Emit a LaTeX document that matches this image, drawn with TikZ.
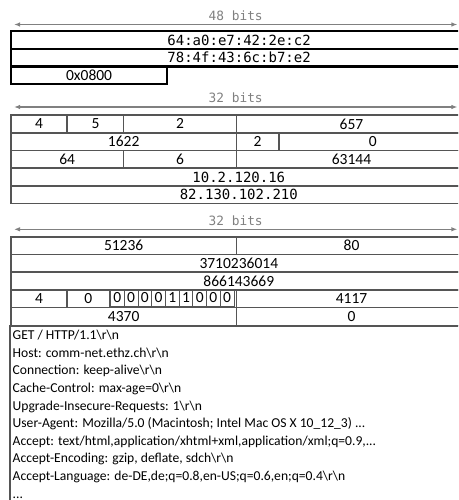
\documentclass[tikz,border=0pt]{standalone}
\usepackage{fontspec}
\setmainfont{Carlito}
\newfontfamily\hexfont{DejaVu Sans Mono}
\usepackage{xcolor}
\usepackage{tikz}
\usetikzlibrary{positioning}
\usetikzlibrary{arrows.meta}

\definecolor{linegray}{HTML}{555555}
\definecolor{labelgray}{HTML}{808080}

\tikzset{
  numfont/.style={font=\fontsize{15.5}{17}\selectfont},
  field/.style={draw=linegray, line width=1.6pt, minimum width=#1, minimum height=17.7pt,
    inner sep=0pt, anchor=north west, numfont},
  hexfield/.style={field=#1, font=\hexfont\fontsize{14}{16}\selectfont},
  ethfield/.style={field=#1, draw=black, line width=2.2pt},
  flagbit/.style={draw=linegray, line width=0.8pt, minimum width=13.72pt, minimum height=17.7pt,
    inner sep=0pt, numfont},
  bitsarrow/.style={{Latex[length=6pt,width=4.5pt]}-{Latex[length=6pt,width=4.5pt]},
    draw=labelgray, line width=1.2pt},
  bitslabel/.style={font=\hexfont\fontsize{12.8}{14}\selectfont, text=labelgray},
  httpbox/.style={draw=linegray, line width=1.6pt},
  httptext/.style={anchor=north west, align=left, inner xsep=2.5pt, inner ysep=4pt,
    font=\fontsize{13.6}{17.6}\selectfont}
}

\begin{document}
\begin{tikzpicture}[x=1pt,y=-1pt]
\useasboundingbox (0,0) rectangle (458,500);
\clip (0,0) rectangle (458,500);

% Ethernet header
\coordinate (ethL) at (14,24.5);
\coordinate (ethR) at (457.4,24.5);
\draw[bitsarrow] (ethL) -- node[bitslabel, above=0pt] (ethbits) {48 bits} (ethR);
\node[ethfield=456pt, font=\hexfont\fontsize{14}{16}\selectfont] (dstmac) at (10,30) {64:a0:e7:42:2e:c2};
\node[ethfield=456pt, font=\hexfont\fontsize{14}{16}\selectfont] (srcmac) at (10,47.7) {78:4f:43:6c:b7:e2};
\node[ethfield=156pt] (ethtype) at (10,65.4) {0x0800};

% IP header
\coordinate (ipL) at (14,107);
\coordinate (ipR) at (457.4,107);
\draw[bitsarrow] (ipL) -- node[bitslabel, above=0pt] (ipbits) {32 bits} (ipR);
\node[field=56.42pt] (ver) at (10,114.3) {4};
\node[field=56.42pt] (ihl) at (66.42,114.3) {5};
\node[field=112.85pt] (tos) at (122.85,114.3) {2};
\node[field=230pt] (iplen) at (235.7,114.3) {657};
\node[field=225.7pt] (ipid) at (10,132) {1622};
\node[field=42.32pt] (ipflags) at (235.7,132) {2};
\node[field=188pt] (fragoff) at (278.02,132) {0};
\node[field=112.85pt] (ttl) at (10,149.7) {64};
\node[field=112.85pt] (proto) at (122.85,149.7) {6};
\node[field=230pt] (ipcsum) at (235.7,149.7) {63144};
\node[hexfield=456pt] (srcip) at (10,167.4) {10.2.120.16};
\node[hexfield=456pt] (dstip) at (10,185.1) {82.130.102.210};

% TCP header
\coordinate (tcpL) at (14,229.3);
\coordinate (tcpR) at (457.4,229.3);
\draw[bitsarrow] (tcpL) -- node[bitslabel, above=0pt] (tcpbits) {32 bits} (tcpR);
\node[field=225.7pt] (sport) at (10,236) {51236};
\node[field=230pt] (dport) at (235.7,236) {80};
\node[field=456pt] (seqnum) at (10,253.7) {3710236014};
\node[field=456pt] (acknum) at (10,271.4) {866143669};
\node[field=56.42pt] (doff) at (10,289.1) {4};
\node[field=42.32pt] (reserved) at (66.42,289.1) {0};
\node[field=126.96pt] (flags) at (108.74,289.1) {};
\foreach \b [count=\i from 0] in {0,0,0,0,1,1,0,0,0}
  \node[flagbit] (flag\i) at (117.36+\i*13.72,297.95) {\b};
\node[field=230pt] (window) at (235.7,289.1) {4117};
\node[field=225.7pt] (tcpcsum) at (10,306.8) {4370};
\node[field=230pt] (urgptr) at (235.7,306.8) {0};

% HTTP request
\draw[httpbox] (10,326) rectangle (470,520);
\node[httptext] (http) at (10,326) {GET / HTTP/1.1\textbackslash r\textbackslash n\\
Host: comm-net.ethz.ch\textbackslash r\textbackslash n\\
Connection: keep-alive\textbackslash r\textbackslash n\\
Cache-Control: max-age=0\textbackslash r\textbackslash n\\
Upgrade-Insecure-Requests: 1\textbackslash r\textbackslash n\\
User-Agent: Mozilla/5.0 (Macintosh; Intel Mac OS X 10\_12\_3) ...\\
Accept: text/html,application/xhtml+xml,application/xml;q=0.9,...\\
Accept-Encoding: gzip, deflate, sdch\textbackslash r\textbackslash n\\
Accept-Language: de-DE,de;q=0.8,en-US;q=0.6,en;q=0.4\textbackslash r\textbackslash n\\
...};

\end{tikzpicture}
\end{document}
